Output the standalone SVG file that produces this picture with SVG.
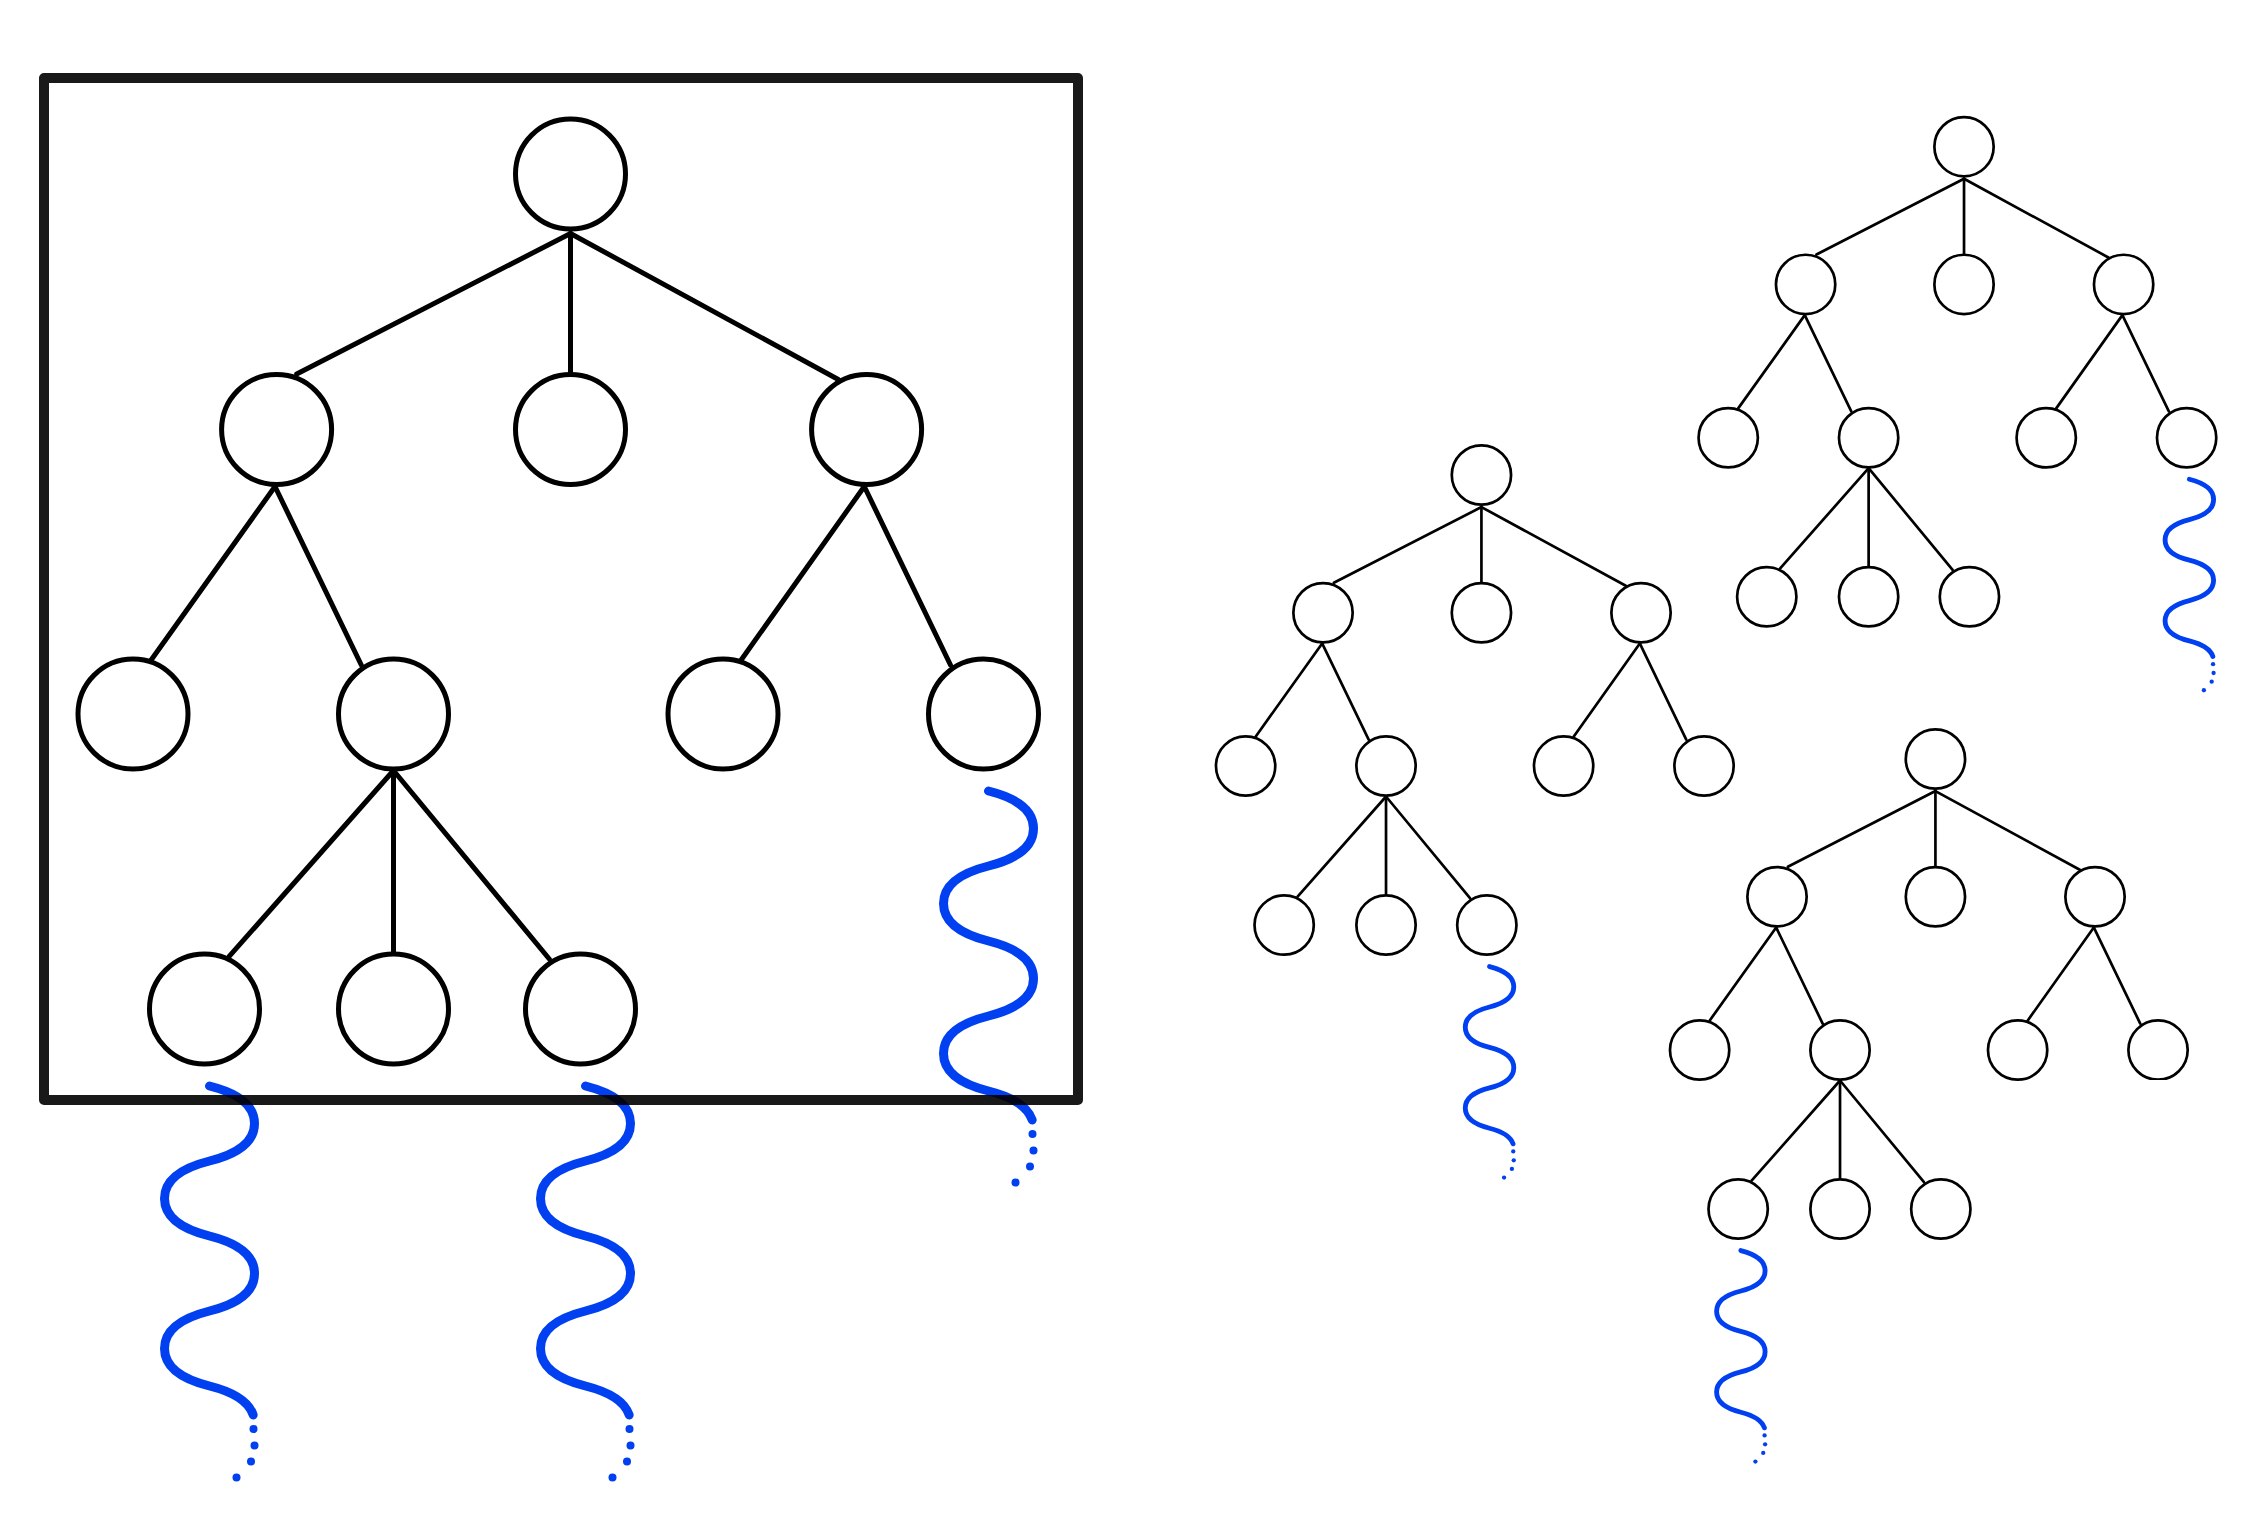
<svg xmlns="http://www.w3.org/2000/svg" xmlns:xlink="http://www.w3.org/1999/xlink" width="2261" height="1529" viewBox="0 0 2261 1529">
<style>
.node{fill:#fff;stroke:#000;stroke-width:5}
.edge{stroke:#000;stroke-width:5;stroke-linecap:round;fill:none}
.wv{fill:none;stroke:#0040f0;stroke-width:9;stroke-linecap:round}
.dot{fill:#0040f0}
.frame{fill:none;stroke:#000;stroke-opacity:0.9;stroke-width:10;stroke-linejoin:round}
</style>
<defs>
<g id="wave">
<path class="wv" d="M0 0 c24 6 45 17 45 37.5 c0 20.5 -21 31.5 -45 37.5 c-24 6 -45 17 -45 37.5 c0 20.5 21 31.5 45 37.5 c24 6 45 17 45 37.5 c0 20.5 -21 31.5 -45 37.5 c-24 6 -45 17 -45 37.5 c0 20.5 21 31.5 45 37.5 c20.4 5.1 38.63 13.81 43.65 28.91"/>
<circle class="dot" cx="44" cy="343" r="4"/>
<circle class="dot" cx="45" cy="359.5" r="4"/>
<circle class="dot" cx="41.5" cy="375.5" r="4"/>
<circle class="dot" cx="27" cy="391.5" r="4"/>
</g>
<g id="edges-tpl">
<line x1="570.5" y1="233.5" x2="296.7" y2="374"/>
<line x1="570.5" y1="233.5" x2="570.5" y2="372"/>
<line x1="570.5" y1="233.5" x2="838.3" y2="379.5"/>
<line x1="275" y1="486.5" x2="151.5" y2="659.5"/>
<line x1="275" y1="486.5" x2="361.3" y2="665"/>
<line x1="864.3" y1="486.5" x2="741.5" y2="659.5"/>
<line x1="864.3" y1="486.5" x2="950.5" y2="665"/>
<line x1="393.5" y1="770.5" x2="229.4" y2="956.2"/>
<line x1="393.5" y1="770.5" x2="393.5" y2="951.5"/>
<line x1="393.5" y1="770.5" x2="549.3" y2="959"/>
</g>
<clipPath id="cutBottom"><rect x="900" y="600" width="200" height="169.5"/></clipPath>
</defs>

<!-- Main (framed) tree -->
<g id="tree-main">
<g id="main-waves">
<use xlink:href="#wave" href="#wave" x="209.5" y="1086"/>
<use xlink:href="#wave" href="#wave" x="585.5" y="1086"/>
<use xlink:href="#wave" href="#wave" x="988.5" y="791"/>
</g>
<g id="main-connectors" class="edge"><use xlink:href="#edges-tpl" href="#edges-tpl"/></g>
<g id="main-root"><circle class="node" cx="570.5" cy="174" r="55"/></g>
<g id="main-a"><circle class="node" cx="276.6" cy="429.5" r="55"/></g>
<g id="main-b"><circle class="node" cx="570.5" cy="429.5" r="55"/></g>
<g id="main-c"><circle class="node" cx="866.6" cy="429.5" r="55"/></g>
<g id="main-aa"><circle class="node" cx="133" cy="714" r="55"/></g>
<g id="main-ab"><circle class="node" cx="393.5" cy="714" r="55"/></g>
<g id="main-ca"><circle class="node" cx="723" cy="714" r="55"/></g>
<g id="main-cb"><circle class="node" cx="983.5" cy="714" r="55"/></g>
<g id="main-aba"><circle class="node" cx="204.5" cy="1009" r="55"/></g>
<g id="main-abb"><circle class="node" cx="393.5" cy="1009" r="55"/></g>
<g id="main-abc"><circle class="node" cx="580.5" cy="1009" r="55"/></g>
</g>
<rect id="frame" class="frame" x="44" y="78" width="1034" height="1022"/>

<!-- Middle small tree -->
<g id="tree-mid" transform="translate(1173.93 381.21) scale(0.539)">
<g id="mid-connectors" class="edge"><use xlink:href="#edges-tpl" href="#edges-tpl"/></g>
<use xlink:href="#wave" href="#wave" x="585.5" y="1086"/>
<g id="mid-root"><circle class="node" cx="570.5" cy="174" r="55"/></g>
<g id="mid-a"><circle class="node" cx="276.6" cy="429.5" r="55"/></g>
<g id="mid-b"><circle class="node" cx="570.5" cy="429.5" r="55"/></g>
<g id="mid-c"><circle class="node" cx="866.6" cy="429.5" r="55"/></g>
<g id="mid-aa"><circle class="node" cx="133" cy="714" r="55"/></g>
<g id="mid-ab"><circle class="node" cx="393.5" cy="714" r="55"/></g>
<g id="mid-ca"><circle class="node" cx="723" cy="714" r="55"/></g>
<g id="mid-cb"><circle class="node" cx="983.5" cy="714" r="55"/></g>
<g id="mid-aba"><circle class="node" cx="204.5" cy="1009" r="55"/></g>
<g id="mid-abb"><circle class="node" cx="393.5" cy="1009" r="55"/></g>
<g id="mid-abc"><circle class="node" cx="580.5" cy="1009" r="55"/></g>
</g>

<!-- Top-right small tree -->
<g id="tree-tr" transform="translate(1656.53 52.91) scale(0.539)">
<g id="tr-connectors" class="edge"><use xlink:href="#edges-tpl" href="#edges-tpl"/></g>
<use xlink:href="#wave" href="#wave" x="988.5" y="791"/>
<g id="tr-root"><circle class="node" cx="570.5" cy="174" r="55"/></g>
<g id="tr-a"><circle class="node" cx="276.6" cy="429.5" r="55"/></g>
<g id="tr-b"><circle class="node" cx="570.5" cy="429.5" r="55"/></g>
<g id="tr-c"><circle class="node" cx="866.6" cy="429.5" r="55"/></g>
<g id="tr-aa"><circle class="node" cx="133" cy="714" r="55"/></g>
<g id="tr-ab"><circle class="node" cx="393.5" cy="714" r="55"/></g>
<g id="tr-ca"><circle class="node" cx="723" cy="714" r="55"/></g>
<g id="tr-cb"><circle class="node" cx="983.5" cy="714" r="55"/></g>
<g id="tr-aba"><circle class="node" cx="204.5" cy="1009" r="55"/></g>
<g id="tr-abb"><circle class="node" cx="393.5" cy="1009" r="55"/></g>
<g id="tr-abc"><circle class="node" cx="580.5" cy="1009" r="55"/></g>
</g>

<!-- Bottom-right small tree -->
<g id="tree-br" transform="translate(1627.93 665.21) scale(0.539)">
<g id="br-connectors" class="edge"><use xlink:href="#edges-tpl" href="#edges-tpl"/></g>
<use xlink:href="#wave" href="#wave" x="209.5" y="1086"/>
<g id="br-root"><circle class="node" cx="570.5" cy="174" r="55"/></g>
<g id="br-a"><circle class="node" cx="276.6" cy="429.5" r="55"/></g>
<g id="br-b"><circle class="node" cx="570.5" cy="429.5" r="55"/></g>
<g id="br-c"><circle class="node" cx="866.6" cy="429.5" r="55"/></g>
<g id="br-aa"><circle class="node" cx="133" cy="714" r="55"/></g>
<g id="br-ab"><circle class="node" cx="393.5" cy="714" r="55"/></g>
<g id="br-ca"><circle class="node" cx="723" cy="714" r="55"/></g>
<g id="br-cb"><circle class="node" cx="983.5" cy="714" r="55" clip-path="url(#cutBottom)"/></g>
<g id="br-aba"><circle class="node" cx="204.5" cy="1009" r="55"/></g>
<g id="br-abb"><circle class="node" cx="393.5" cy="1009" r="55"/></g>
<g id="br-abc"><circle class="node" cx="580.5" cy="1009" r="55"/></g>
</g>
</svg>
